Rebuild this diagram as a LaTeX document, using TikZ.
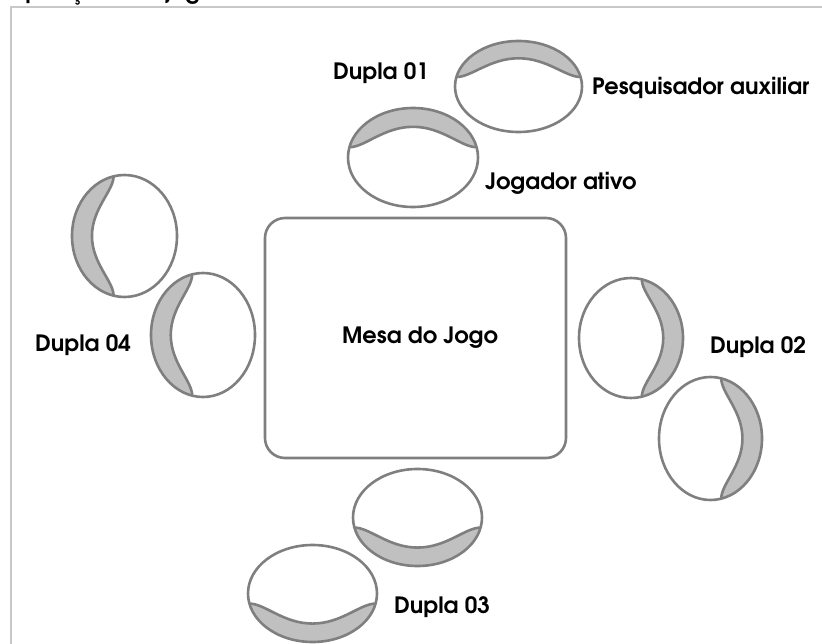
\documentclass[tikz,border=0pt]{standalone}
\usepackage{fontspec}
\setmainfont{texgyreadventor-bold.otf}
\definecolor{linegray}{HTML}{7F7F7F}
\definecolor{bandgray}{HTML}{C0C0C0}
\definecolor{framegray}{HTML}{C8C8C8}
\tikzset{
  lbl/.style={anchor=base west, inner sep=0pt, font=\fontsize{22.5}{25}\selectfont, text=black},
  outline/.style={draw=linegray, line width=2.6pt},
}
% inner wavy edge of the arm band, from right end to left end
\newcommand\innerwave[2]{(348:#1 and #2)
      .. controls ({0.74*#1},{-0.208*#2}) and ({0.45*#1},{-0.62*#2}) .. (0,{-0.62*#2})
      .. controls ({-0.45*#1},{-0.62*#2}) and ({-0.74*#1},{-0.208*#2}) .. (192:#1 and #2)}
% #1 = centre, #2 = rotation, #3 = half length (along), #4 = half depth
\newcommand\seatperson[4]{%
  \begin{scope}[shift={#1}, rotate=#2]
    \fill[bandgray] (192:#3 and #4) arc[start angle=192, end angle=348, x radius=#3, y radius=#4]
      -- \innerwave{#3}{#4} -- cycle;
    \draw[outline] \innerwave{#3}{#4};
    \draw[outline] (0,0) ellipse[x radius=#3, y radius=#4];
  \end{scope}}
\begin{document}
\begin{tikzpicture}[x=1pt, y=-1pt]
\useasboundingbox (0,0) rectangle (822,644);
\clip (0,0) rectangle (822,644);
% cut-off caption at the top
\begin{scope}
  \clip (0,0) rectangle (822,6);
  \node[lbl] (caption) at (-6,-0.8) {Disposição dos jogadores};
\end{scope}
% frame
\draw[framegray, line width=2pt] (10.5,660) |- (840,7.5);
% table
\node[draw=linegray, line width=2.6pt, rounded corners=20pt, minimum width=301pt, minimum height=240pt, inner sep=0pt] (mesa) at (415.5,338) {};
\node[lbl] (mesatxt) at (342,343) {Mesa do Jogo};
% people
\seatperson{(518.5,86.5)}{0}{63.5}{45.5}
\seatperson{(413,157.5)}{0}{65}{49.5}
\seatperson{(124.5,236)}{90}{61}{52.5}
\seatperson{(203,335)}{90}{62}{52}
\seatperson{(631,338)}{-90}{60}{52}
\seatperson{(710.5,438.5)}{-90}{61.5}{51.5}
\seatperson{(417.5,517.5)}{180}{64.5}{48.5}
\seatperson{(312.5,593.5)}{180}{64.5}{48.5}
% labels
\node[lbl] (d1) at (333,80) {Dupla 01};
\node[lbl] (pa) at (592,95) {Pesquisador auxiliar};
\node[lbl] (ja) at (485,190) {Jogador ativo};
\node[lbl] (d4) at (35,352) {Dupla 04};
\node[lbl] (d2) at (710,353) {Dupla 02};
\node[lbl] (d3) at (394,613) {Dupla 03};
\end{tikzpicture}
\end{document}
